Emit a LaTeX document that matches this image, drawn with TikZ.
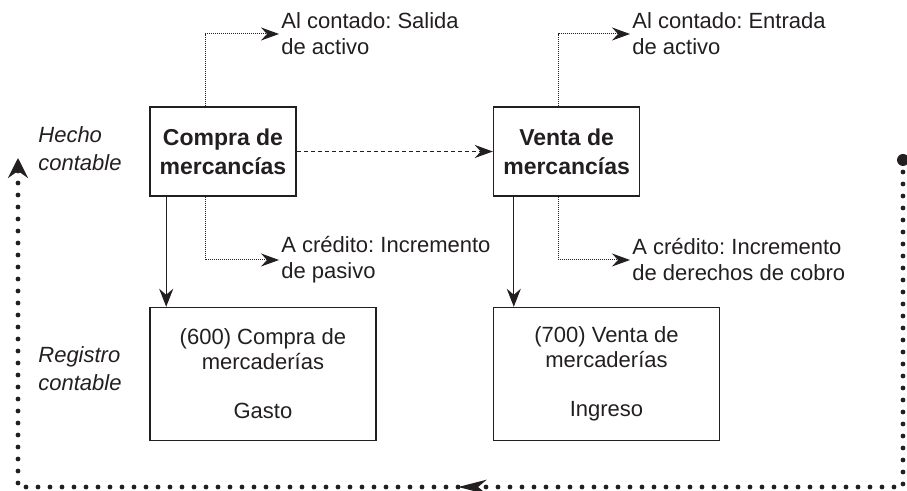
\documentclass[tikz,border=0pt]{standalone}
\usepackage{fontspec}
\setmainfont{Liberation Sans}
\usepackage{xcolor}
\definecolor{InkBlack}{HTML}{231F20}
\usetikzlibrary{arrows.meta, positioning, calc}
\frenchspacing
\tikzset{
  % Box styles
  eventbox/.style={rectangle, draw=InkBlack, line width=0.8pt, minimum width=73pt, minimum height=44.5pt, font=\fontsize{11.5}{14.5}\selectfont\bfseries, align=center, text=InkBlack, inner sep=2pt},
  recordbox/.style={rectangle, draw=InkBlack, line width=0.7pt, minimum width=113pt, minimum height=66.5pt, font=\fontsize{11}{12.5}\selectfont, align=center, text=InkBlack},
  % Text styles
  notetext/.style={font=\fontsize{11}{13}\selectfont, align=left, anchor=west, inner sep=1pt, text=InkBlack},
  sidetext/.style={font=\fontsize{11}{14}\selectfont\itshape, align=left, anchor=west, inner sep=0pt, text=InkBlack},
  % Arrow styles
  arrow/.style={-{Stealth[length=9pt,width=7pt,inset=3pt]}, line width=0.6pt, InkBlack},
  dashedarrow/.style={-{Stealth[length=9pt,width=6.5pt,inset=3pt]}, line width=0.6pt, InkBlack, dash pattern=on 2pt off 1.5pt},
  dotarrow/.style={-{Stealth[length=9pt,width=6.5pt,inset=3pt]}, line width=0.5pt, InkBlack, dash pattern=on 0.5pt off 0.5pt},
  loopline/.style={line width=2.4pt, InkBlack, line cap=round, dash pattern=on 0pt off 6pt}
}

\begin{document}
\begin{tikzpicture}[x=0.5pt, y=-0.5pt]
  \useasboundingbox (0,0) rectangle (907,491);

  % Hechos contables
  \node[eventbox] (compra) at (223,151.5) {Compra de\\mercancías};
  \node[eventbox, right=98pt of compra] (venta) {Venta de\\mercancías};

  % Registros contables
  \node[recordbox, below=55pt of compra.south west, anchor=north west] (compraReg) {(600) Compra de\\mercaderías\\[12pt]Gasto};
  \node[recordbox, below=55pt of venta.south west, anchor=north west] (ventaReg) {(700) Venta de\\mercaderías\\[12pt]Ingreso};

  % Notas
  \node[notetext] (compraCont) at (279,34) {Al contado: Salida\\de activo};
  \node[notetext] (compraCred) at (279,260) {A crédito: Incremento\\de pasivo};
  \node[notetext] (ventaCont) at (630,34) {Al contado: Entrada\\de activo};
  \node[notetext] (ventaCred) at (630,260) {A crédito: Incremento\\de derechos de cobro};

  \node[sidetext] (hecho) at (38,149) {Hecho\\contable};
  \node[sidetext] (registro) at (38,369) {Registro\\contable};

  % Flechas
  \draw[dashedarrow] (compra.east) -- (venta.west);
  \draw[arrow] ([xshift=8.5pt]compra.south west) -- ([xshift=8.5pt]compra.south west |- compraReg.north);
  \draw[arrow] ([xshift=10.5pt]venta.south west) -- ([xshift=10.5pt]venta.south west |- ventaReg.north);
  \draw[dotarrow] ([xshift=28pt]compra.north west) |- (compraCont.west);
  \draw[dotarrow] ([xshift=28pt]compra.south west) |- (compraCred.west);
  \draw[dotarrow] ([xshift=33pt]venta.north west) |- (ventaCont.west);
  \draw[dotarrow] ([xshift=33pt]venta.south west) |- (ventaCred.west);

  % Ciclo
  \coordinate (loopStart) at (903,160);
  \coordinate (loopBR) at (903,487);
  \coordinate (loopMid) at (458,487);
  \coordinate (loopBL) at (18,487);
  \coordinate (loopEnd) at (18,158);
  \fill[InkBlack] (loopStart) circle (3pt);
  \draw[loopline, -{Stealth[length=14pt,width=7pt,inset=4pt]}] (loopStart) -- (loopBR) -- (loopMid);
  \draw[loopline, -{Stealth[length=10pt,width=10pt,inset=3.5pt]}] (loopMid) -- (loopBL) -- (loopEnd);
\end{tikzpicture}
\end{document}
